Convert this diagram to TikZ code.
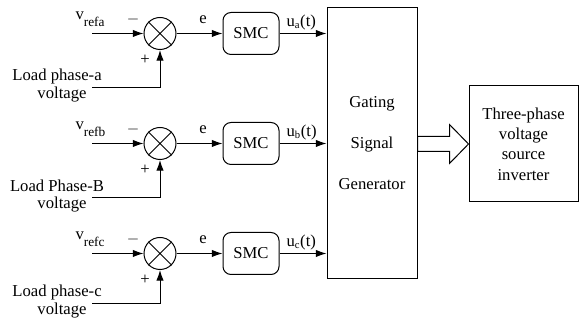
\documentclass[tikz,border=0pt]{standalone}
\usepackage{fontspec}
\setmainfont{Liberation Serif}
\usetikzlibrary{arrows.meta,calc}
\begin{document}
\begin{tikzpicture}[x=0.75pt,y=-0.75pt,
  line width=0.75pt,
  every node/.style={font=\fontsize{12.5}{15}\selectfont, inner sep=0pt},
  arr/.style={-{Latex[length=8pt,width=5.5pt]}},
  sumnode/.style={draw, circle, minimum size=24pt},
  smcbox/.style={draw, rounded corners=6pt, minimum width=42pt, minimum height=31.5pt},
  subtxt/.style={font=\fontsize{10}{12}\selectfont},
]
\useasboundingbox (0,0) rectangle (579,323);

% Gating signal generator
\node[draw, minimum width=67.5pt, minimum height=203.25pt, align=center,
      font=\fontsize{12.5}{30.75}\selectfont] (gsg) at (372,143.5) {Gating\\Signal\\Generator};
% inverter
\node[draw, minimum width=81.75pt, minimum height=87pt, align=center,
      font=\fontsize{12.5}{15.2}\selectfont] (inv) at (523.5,144) {Three-phase\\voltage\\source\\inverter};

% hollow arrow
\draw[fill=white] ($(gsg.east)+(0,-7)$) -- ($(gsg.east)+(32,-7)$) -- ($(gsg.east)+(32,-19)$)
  -- (inv.west) -- ($(gsg.east)+(32,20)$) -- ($(gsg.east)+(32,8)$) -- ($(gsg.east)+(0,8)$) -- cycle;

% rows
\foreach \r/\y/\ly/\sub/\out/\loadA in {a/33.5/88/refa/a/{Load phase-a}, b/143.5/198/refb/b/{Load Phase-B}, c/253.5/304/refc/c/{Load phase-c}}{
  \node[sumnode] (s\r) at (160,\y) {};
  \draw (s\r.45) -- (s\r.225) (s\r.135) -- (s\r.315);
  \node[smcbox] (m\r) at (251,\y) {SMC};
  \coordinate (in\r) at (92,\y);
  \coordinate (ld\r) at (92,\ly);
  \coordinate (out\r) at (gsg.west |- 0,\y);
  \draw[arr] (in\r) -- (s\r.west);
  \draw[arr] (s\r.east) -- (m\r.west);
  \draw[arr] (m\r.east) -- (out\r);
  \draw[arr] (ld\r) -| (s\r.south);
  \node[anchor=base west] (v\r) at (75,19.5) [yshift={(33.5-\y)*0.75pt}] {v\raisebox{-5pt}{\fontsize{10}{12}\selectfont \sub}};
  \node (mi\r) at (133,\y-13.5) {$-$};
  \node (pl\r) at (145,\y+26.5) {+};
  \node (e\r) at (203,\y-14) {e};
  \node[anchor=base west] (u\r) at (286,\y-7) {u\textsubscript{\fontsize{8}{9}\selectfont\out}(t)};
  \node (la\r) at (57,\ly-12) {\loadA};
  \node (lb\r) at (62,\ly+7) {voltage};
}
\end{tikzpicture}
\end{document}
